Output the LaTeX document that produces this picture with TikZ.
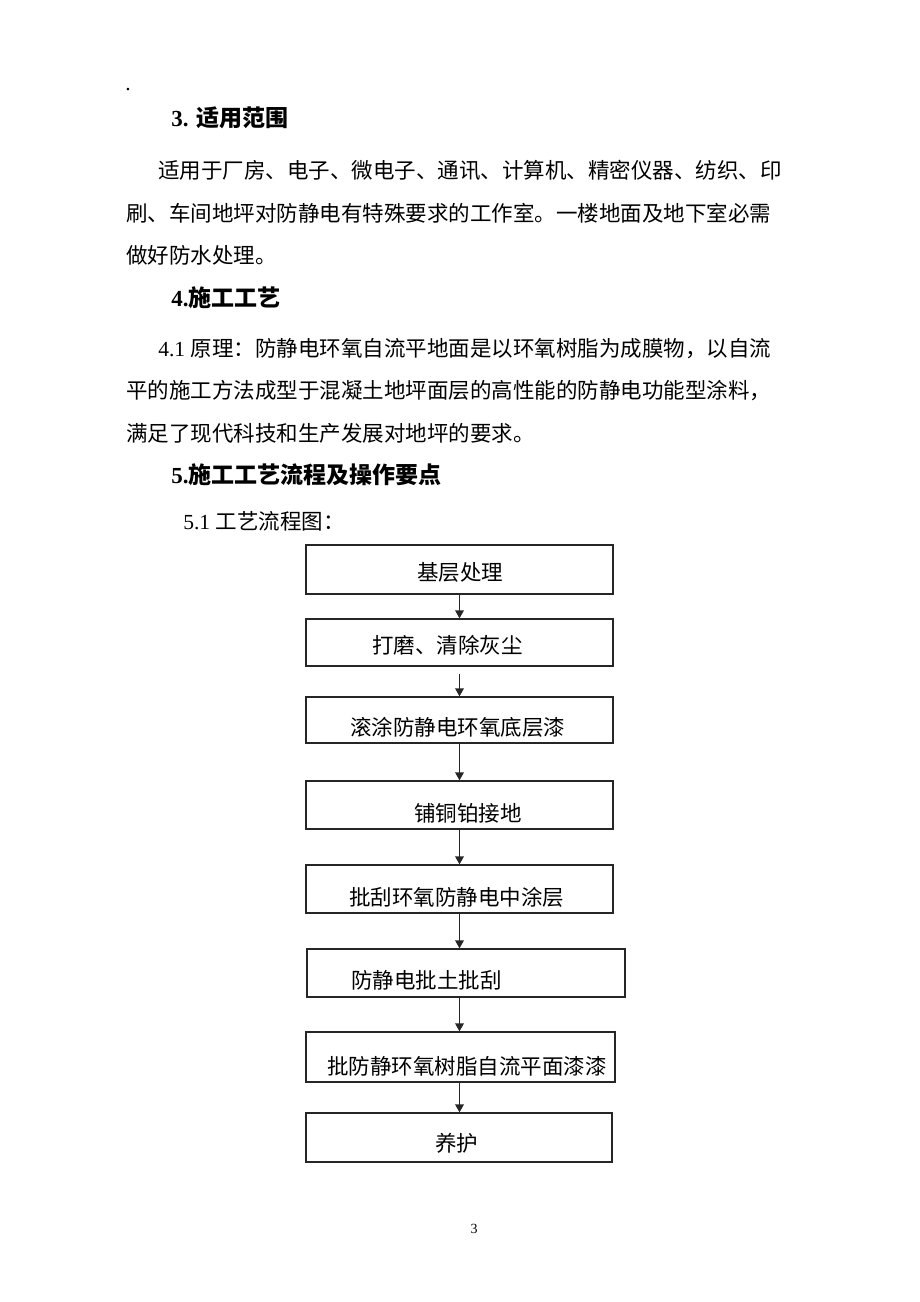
\documentclass[tikz,border=0pt]{standalone}
\usepackage{fontspec}
\setmainfont{Liberation Serif}
\newfontfamily\cjk{Noto Sans CJK SC}
\usetikzlibrary{arrows.meta}
\newdimen\px \px=0.75pt
\ExplSyntaxOn
\NewDocumentCommand\spreadline{mm}{\hbox~to~#1{\tl_map_inline:nn {#2}{##1\hfil}\unskip}}
\ExplSyntaxOff
\newcommand\bodysize{\fontsize{16.125pt}{20pt}\selectfont}
\newcommand\headsize{\fontsize{17.25pt}{20pt}\selectfont}
\newcommand\bt[4]{\makebox[#1\px][l]{\hspace*{#2\px}\raisebox{-#3\px}[12.25pt][0pt]{\cjk\bodysize #4}}}
\tikzset{
  txt/.style={anchor=base west, inner sep=0pt, font=\bodysize},
  head/.style={anchor=base west, inner sep=0pt, font=\headsize},
  fb/.style={draw=black!85, line width=1pt, inner sep=0pt},
  arr/.style={draw=black!85, line width=1pt, -{Triangle[length=6pt,width=6.5pt]}}
}
\begin{document}
\begin{tikzpicture}[x=0.75pt,y=-0.75pt]
\fill[white] (0,0) rectangle (920,1302);
\useasboundingbox (0,0) rectangle (920,1302);

\node[txt] (dot) at (125,91) {.};
\node[head] (h3) at (171,126.7) {\textbf{3.} {\cjk\bfseries 适用范围}};
\node[txt] (l1) at (158,178.2) {\cjk\spreadline{467pt}{适用于厂房、电子、微电子、通讯、计算机、精密仪器、纺织、印}};
\node[txt] (l2) at (126,221.7) {\cjk 刷、车间地坪对防静电有特殊要求的工作室。一楼地面及地下室必需};
\node[txt] (l3) at (126,263.7) {\cjk 做好防水处理。};
\node[head] (h4) at (171,306.2) {\textbf{4.}{\cjk\bfseries 施工工艺}};
\node[txt] (l4) at (158,356.2) {4.1 {\cjk 原理：防静电环氧自流平地面是以环氧树脂为成膜物，以自流}};
\node[txt] (l5) at (126,398.7) {\cjk 平的施工方法成型于混凝土地坪面层的高性能的防静电功能型涂料，};
\node[txt] (l6) at (126,441.2) {\cjk 满足了现代科技和生产发展对地坪的要求。};
\node[head] (h5) at (171,483.7) {\textbf{5.}{\cjk\bfseries 施工工艺流程及操作要点}};
\node[txt] (l7) at (183,529.2) {5.1 {\cjk 工艺流程图：}};

\node[fb, minimum width=307\px, minimum height=49\px] (b1) at (459.5,569.5) {\bt{307}{111}{3}{基层处理}};
\node[fb, minimum width=307\px, minimum height=47\px] (b2) at (459.5,642.5) {\bt{307}{66}{2.5}{打磨、清除灰尘}};
\node[fb, minimum width=307\px, minimum height=46\px] (b3) at (459.5,720) {\bt{307}{44}{7.5}{滚涂防静电环氧底层漆}};
\node[fb, minimum width=307\px, minimum height=48\px] (b4) at (459.5,805) {\bt{307}{108}{8}{铺铜铂接地}};
\node[fb, minimum width=307\px, minimum height=48\px] (b5) at (459.5,889) {\bt{307}{43}{8}{批刮环氧防静电中涂层}};
\node[fb, minimum width=318\px, minimum height=48\px] (b6) at (466,973) {\bt{318}{44}{7}{防静电批土批刮}};
\node[fb, minimum width=309\px, minimum height=50\px] (b7) at (460.5,1057) {\bt{309}{21}{9}{批防静环氧树脂自流平面漆漆}};
\node[fb, minimum width=306\px, minimum height=49\px] (b8) at (459,1137.5) {\bt{306}{129}{5.5}{养护}};

\coordinate (ax) at (459.5,0);
\draw[arr] (b1.south -| ax) -- (b2.north -| ax);
\draw[arr, shorten <=5.25pt] (b2.south -| ax) -- (b3.north -| ax);
\draw[arr] (b3.south -| ax) -- (b4.north -| ax);
\draw[arr] (b4.south -| ax) -- (b5.north -| ax);
\draw[arr] (b5.south -| ax) -- (b6.north -| ax);
\draw[arr] (b6.south -| ax) -- (b7.north -| ax);
\draw[arr] (b7.south -| ax) -- (b8.north -| ax);

\node[anchor=base, inner sep=0pt, font=\fontsize{10.5pt}{12pt}\selectfont] (pg) at (474,1233) {3};
\end{tikzpicture}
\end{document}
